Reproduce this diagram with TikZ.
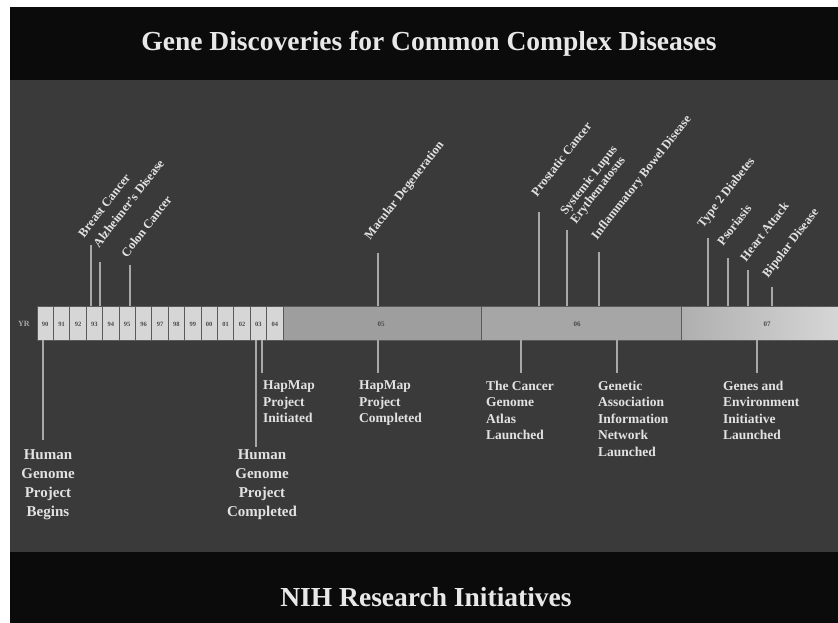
\documentclass[tikz,border=0pt]{standalone}
\usepackage{fontspec}
\setmainfont{Liberation Serif}
\definecolor{bandblack}{HTML}{0B0B0B}
\definecolor{midgray}{HTML}{3A3A3A}
\definecolor{titlegray}{HTML}{E8E8E8}
\definecolor{labelgray}{HTML}{E2E2E2}
\definecolor{linegray}{HTML}{A8A8A8}
\definecolor{boxfill}{HTML}{D6D6D6}
\definecolor{boxedge}{HTML}{5A5A5A}
\definecolor{segfill}{HTML}{9E9E9E}
\definecolor{segfillb}{HTML}{A6A6A6}
\definecolor{yeartext}{HTML}{4A4A4A}
\begin{document}
\begin{tikzpicture}[x=1pt,y=-1pt,
  every node/.style={inner sep=0pt,outer sep=0pt},
  titletext/.style={font=\fontsize{27.5}{30}\selectfont\bfseries,text=titlegray},
  disease/.style={font=\fontsize{12.5}{13}\selectfont\bfseries,text=labelgray,rotate=52,anchor=base west,align=left},
  event/.style={font=\fontsize{13.5}{16.5}\selectfont\bfseries,text=labelgray,align=left,anchor=north west},
  bigevent/.style={font=\fontsize{15}{19}\selectfont\bfseries,text=labelgray,align=center,anchor=north},
  tickline/.style={draw=linegray,line width=1.3pt},
  yearbox/.style={draw=boxedge,fill=boxfill,line width=0.9pt},
  segbox/.style={draw=boxedge,line width=0.9pt},
  yearlbl/.style={font=\fontsize{6.5}{7}\selectfont\bfseries,text=yeartext},
]
\useasboundingbox (0,0) rectangle (838,623);
% background
\fill[white] (0,0) rectangle (838,623);
\fill[bandblack] (10,7) rectangle (838,80);
\fill[midgray] (10,80) rectangle (838,552);
\fill[bandblack] (10,552) rectangle (838,623);
% titles
\node[titletext] (title) at (429,44) {Gene Discoveries for Common Complex Diseases};
\node[titletext] (bottomtitle) at (426,597) {NIH Research Initiatives};
% year bar
\node[font=\fontsize{8}{9}\selectfont\bfseries,text=linegray] (yr) at (24,324) {YR};
\foreach \lbl [count=\i from 0] in {90,91,92,93,94,95,96,97,98,99,00,01,02,03,04}{
  \path[yearbox] (37+16.4*\i,306) rectangle (37+16.4*\i+16.4,340);
  \node[yearlbl] (y\lbl) at (37+16.4*\i+8.2,324) {\lbl};
}
\path[segbox,fill=segfill] (283,306) rectangle (481.5,340);
\path[segbox,fill=segfillb] (481.5,306) rectangle (681,340);
\path[segbox,left color=segfillb!90!white,right color=boxfill] (681,306) rectangle (839,340);
\node[yearlbl,font=\fontsize{7}{8}\selectfont\bfseries] (y05) at (381,324) {05};
\node[yearlbl,font=\fontsize{7}{8}\selectfont\bfseries] (y06) at (577,324) {06};
\node[yearlbl,font=\fontsize{7}{8}\selectfont\bfseries] (y07) at (767,324) {07};
% disease ticks and labels
\foreach \name/\x/\top/\sx/\sy/\txt in {
  breast/91/245/84/238/{Breast Cancer},
  alz/100/262/99/248/{Alzheimer's Disease},
  colon/130/265/127/258/{Colon Cancer},
  macular/378/253/370/240/{Macular Degeneration},
  prostate/539/212/537/197/{Prostatic Cancer},
  ibd/599/252/597/240/{Inflammatory Bowel Disease},
  t2d/708/238/703/228/{Type 2 Diabetes},
  psoriasis/728/258/723/246/{Psoriasis},
  heart/748/270/746/262/{Heart Attack},
  bipolar/772/287/768/278/{Bipolar Disease}}{
  \coordinate (\name-bar) at (\x,306);
  \coordinate (\name-top) at (\x,\top);
  \node[disease] (\name) at (\sx,\sy) {\txt};
  \draw[tickline] (\name-bar) -- (\name-top);
}
\coordinate (lupus-bar) at (567,306);
\coordinate (lupus-top) at (567,230);
\node[disease] (lupus) at (576,224) {Systemic Lupus\\Erythematosus};
\draw[tickline] (lupus-bar) -- (lupus-top);
% NIH events
\foreach \name/\x/\bot in {hgpb/43/440,hgpc/256/447,hmi/262/373,hmc/378/373,tcga/521/373,gain/617/373,gei/757/373}{
  \coordinate (\name-bar) at (\x,340);
  \coordinate (\name-end) at (\x,\bot);
  \draw[tickline] (\name-bar) -- (\name-end);
}
\node[bigevent] (hgpb) at (48,450) {Human\\Genome\\Project\\Begins};
\node[bigevent] (hgpc) at (262,450) {Human\\Genome\\Project\\Completed};
\node[event] (hmi) at (263,381) {HapMap\\Project\\Initiated};
\node[event] (hmc) at (359,381) {HapMap\\Project\\Completed};
\node[event] (tcga) at (486,381) {The Cancer\\Genome\\Atlas\\Launched};
\node[event] (gain) at (598,381) {Genetic\\Association\\Information\\Network\\Launched};
\node[event] (gei) at (723,381) {Genes and\\Environment\\Initiative\\Launched};
\end{tikzpicture}
\end{document}
